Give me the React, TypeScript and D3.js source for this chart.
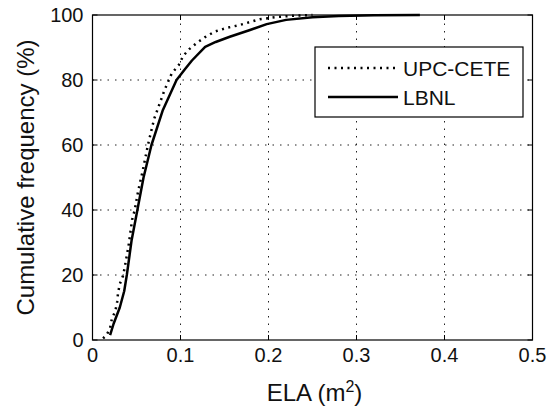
import React from "react";
import * as d3 from "d3";

const xTicks = [0, 0.1, 0.2, 0.3, 0.4, 0.5];
const xTickLabels = ["0", "0.1", "0.2", "0.3", "0.4", "0.5"];
const yTicks = [0, 20, 40, 60, 80, 100];
const yTickLabels = ["0", "20", "40", "60", "80", "100"];

const upcX = [0.012, 0.016, 0.02, 0.022, 0.026, 0.028, 0.029, 0.031, 0.035, 0.037, 0.039, 0.041, 0.043, 0.045, 0.048, 0.05, 0.052, 0.057, 0.063, 0.07, 0.082, 0.09, 0.098, 0.103, 0.11, 0.118, 0.128, 0.139, 0.152, 0.167, 0.19, 0.21, 0.23, 0.25];
const upcY = [0.5, 1.5, 3.7, 6.5, 9, 11.7, 14.4, 17.2, 20, 23, 26, 29, 33, 37, 40, 43, 46, 52, 60, 68, 77, 82, 84.6, 87.4, 89.5, 91.3, 93.2, 94.9, 96, 96.9, 98.7, 99.4, 99.8, 100];

const lbnlX = [0.02, 0.024, 0.031, 0.036, 0.039, 0.0445, 0.051, 0.058, 0.067, 0.08, 0.0955, 0.105, 0.113, 0.128, 0.14, 0.156, 0.179, 0.198, 0.22, 0.25, 0.28, 0.32, 0.372];
const lbnlY = [1.5, 5, 10, 15, 20, 30.8, 40, 50, 60, 70.8, 80, 83.3, 86, 90.2, 91.7, 93.3, 95.4, 97.2, 98.5, 99.3, 99.7, 99.9, 100];

const W = 560;
const H = 413;
const FONT = "'Liberation Sans', Arial, sans-serif";

export default function App() {
  const x = d3.scaleLinear().domain([0, 0.5]).range([92.5, 532.5]);
  const y = d3.scaleLinear().domain([0, 100]).range([340, 15]);
  const line = d3
    .line<[number, number]>()
    .x((d) => x(d[0]))
    .y((d) => y(d[1]));
  const upc = upcX.map((v, i) => [v, upcY[i]] as [number, number]);
  const lbnl = lbnlX.map((v, i) => [v, lbnlY[i]] as [number, number]);
  const [x0, x1] = x.range();
  const [y0, y1] = y.range();
  const tl = 5;

  const lx0 = 315, ly0 = 47, lx1 = 523, ly1 = 117;

  return (
    <svg
      width={W}
      height={H}
      style={{ position: "absolute", left: 0, top: 0, background: "#fff" }}
    >
      <rect x={0} y={0} width={W} height={H} fill="#fff" />
      {xTicks.slice(1, -1).map((t) => (
        <line key={"gx" + t} x1={x(t)} x2={x(t)} y1={y0} y2={y1} stroke="#222" strokeWidth={1} strokeDasharray="1.5,6" />
      ))}
      {yTicks.slice(1, -1).map((t) => (
        <line key={"gy" + t} x1={x0} x2={x1} y1={y(t)} y2={y(t)} stroke="#222" strokeWidth={1} strokeDasharray="1.5,6" />
      ))}
      {xTicks.map((t) => (
        <g key={"tx" + t}>
          <line x1={x(t)} x2={x(t)} y1={y0} y2={y0 - tl} stroke="#000" />
          <line x1={x(t)} x2={x(t)} y1={y1} y2={y1 + tl} stroke="#000" />
        </g>
      ))}
      {yTicks.map((t) => (
        <g key={"ty" + t}>
          <line x1={x0} x2={x0 + tl} y1={y(t)} y2={y(t)} stroke="#000" />
          <line x1={x1} x2={x1 - tl} y1={y(t)} y2={y(t)} stroke="#000" />
        </g>
      ))}
      <path d={line(upc) || ""} fill="none" stroke="#000" strokeWidth={2.5} strokeDasharray="2,4.5" />
      <path d={line(lbnl) || ""} fill="none" stroke="#000" strokeWidth={2.5} strokeLinejoin="round" />
      <rect x={x0} y={y1} width={x1 - x0} height={y0 - y1} fill="none" stroke="#000" strokeWidth={1.2} />
      {xTicks.map((t, i) => (
        <text key={"lx" + t} x={x(t)} y={y0 + 22} textAnchor="middle" fontFamily={FONT} fontSize={20} fill="#111">
          {xTickLabels[i]}
        </text>
      ))}
      {yTicks.map((t, i) => (
        <text key={"ly" + t} x={x0 - 9} y={y(t) + 7} textAnchor="end" fontFamily={FONT} fontSize={20} fill="#111">
          {yTickLabels[i]}
        </text>
      ))}
      <text x={(x0 + x1) / 2 + 2} y={y0 + 61} textAnchor="middle" fontFamily={FONT} fontSize={24} fill="#111">
        ELA (m<tspan dy={-9} fontSize={16}>2</tspan><tspan dy={9}>)</tspan>
      </text>
      <text transform={`translate(34,${(y0 + y1) / 2}) rotate(-90)`} textAnchor="middle" fontFamily={FONT} fontSize={24} fill="#111">
        Cumulative frequency (%)
      </text>
      <rect x={lx0} y={ly0} width={lx1 - lx0} height={ly1 - ly0} fill="#fff" stroke="#000" strokeWidth={1.2} />
      <line x1={328} x2={398} y1={68} y2={68} stroke="#000" strokeWidth={2.5} strokeDasharray="2,4.5" />
      <line x1={328} x2={398} y1={97} y2={97} stroke="#000" strokeWidth={2.5} />
      <text x={403} y={76} fontFamily={FONT} fontSize={21} fill="#111">UPC-CETE</text>
      <text x={403} y={105} fontFamily={FONT} fontSize={21} fill="#111">LBNL</text>
    </svg>
  );
}
